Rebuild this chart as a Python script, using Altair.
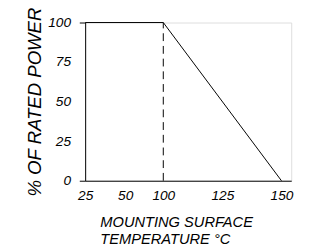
import altair as alt
import pandas as pd

# data
temps = [25, 100, 150]
power = [100, 100, 0]
knee_temp = [100]
x_ticks = [25, 50, 100, 125, 150]
y_ticks = [0, 25, 50, 75, 100]

# the drawing's x axis is not evenly spaced: piecewise-linear scale
x_domain = [25, 50, 100, 150, 154]
x_range = [0, 41, 80, 201, 211]

FONT = "Liberation Sans"

line_df = pd.DataFrame({"t": temps, "p": power})
knee_df = pd.DataFrame({"t": knee_temp, "p0": [0], "p1": [100]})

xscale = alt.Scale(domain=x_domain, range=x_range, nice=False, zero=False)
yscale = alt.Scale(domain=[0, 100], nice=False)

xaxis = alt.Axis(
    values=x_ticks, ticks=False, grid=False, domainColor="black", domainWidth=1,
    labelFont=FONT, labelFontStyle="italic", labelFontSize=14, labelColor="black",
    labelPadding=8, labelFlush=False,
    title=["MOUNTING  SURFACE", "TEMPERATURE °C"], titleFont=FONT,
    titleFontStyle="italic", titleFontWeight="normal", titleFontSize=15,
    titleColor="black", titleAlign="left", titleAnchor="start", titleBaseline="alphabetic",
    titleX=15, titleY=47, titleLineHeight=17,
)
yaxis = alt.Axis(
    values=y_ticks, grid=False, domainColor="black", domainWidth=1,
    tickSize=6, tickColor="black", tickWidth=1,
    tickOpacity=alt.expr("datum.value == 0 || datum.value == 100 ? 1 : 0"),
    labelFont=FONT, labelFontStyle="italic", labelFontSize=14, labelColor="black",
    labelPadding=9, labelFlush=False,
    title="% OF RATED POWER", titleFont=FONT, titleFontStyle="italic",
    titleFontWeight="normal", titleFontSize=19, titleColor="black",
    titleAngle=270, titleBaseline="alphabetic", titleAnchor="middle",
    titleX=-46, titleY=81,
)

line = alt.Chart(line_df).mark_line(color="black", strokeWidth=1).encode(
    x=alt.X("t:Q", scale=xscale, axis=xaxis),
    y=alt.Y("p:Q", scale=yscale, axis=yaxis),
)
knee = alt.Chart(knee_df).mark_rule(color="black", strokeWidth=1, strokeDash=[8, 5]).encode(
    x=alt.X("t:Q", scale=xscale),
    y=alt.Y("p0:Q", scale=yscale),
    y2="p1:Q",
)

chart = (
    alt.layer(knee, line)
    .properties(
        width=211, height=162,
        autosize=alt.AutoSizeParams(type="none"),
        padding={"left": 79, "top": 12, "right": 10, "bottom": 66},
    )
    .configure_view(stroke=None)
    .configure(background="white")
)

chart.save("out.html", embed_options={"renderer": "svg", "actions": False})
